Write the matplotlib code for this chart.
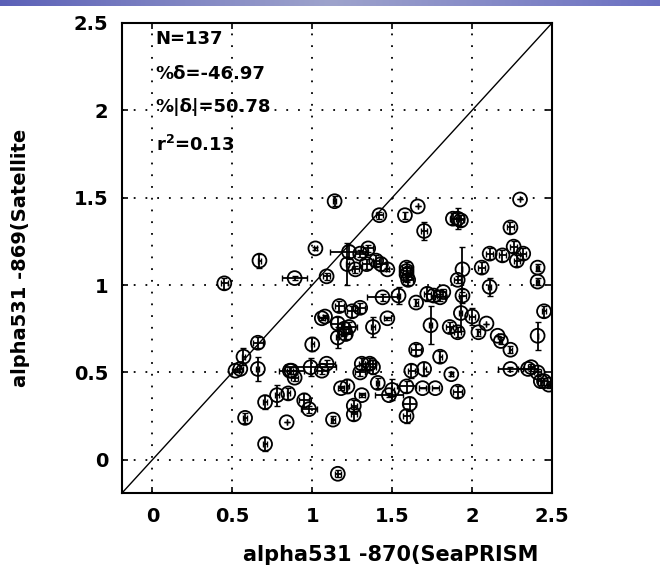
import numpy as np
import matplotlib
matplotlib.use("Agg")
import matplotlib.pyplot as plt

# ---------------- data ----------------
x_seaprism = [0.45, 0.67, 0.66, 0.57, 0.55, 0.52, 0.66, 0.58, 0.705, 0.78,
              0.85, 0.84, 0.705, 0.87,
              1.14, 1.42, 1.58, 1.66, 1.70, 1.88, 1.91, 1.93, 1.02, 2.11,
              2.06, 2.11, 1.94, 1.91, 0.89, 1.09, 1.23, 1.22, 1.27, 1.35,
              1.34, 1.40, 1.43, 1.47, 1.30, 1.59, 1.59, 1.60, 1.59,
              1.44, 1.54, 1.65, 1.72, 1.76, 1.80, 1.82, 1.94, 1.93, 1.74,
              1.86, 1.91, 2.00, 2.09, 2.16, 1.80, 1.87, 1.91, 1.77, 1.69,
              1.65, 1.70, 1.62, 1.59, 1.61, 1.59, 1.48, 1.50, 1.41, 1.38,
              1.47, 1.31, 1.36, 1.38, 1.30, 1.22, 1.18, 1.31, 1.26, 1.26,
              1.13, 1.16, 1.00, 0.99, 1.09, 1.06, 0.86, 0.89, 0.95, 0.98,
              1.17, 1.30, 1.06, 1.08, 1.16, 1.20, 1.23, 1.16, 1.25, 1.21,
              2.30, 2.24, 2.26, 2.32, 2.41, 2.41, 2.45, 2.41, 2.37, 2.41,
              2.45, 2.43, 2.24, 2.24, 2.18, 2.04, 2.48, 2.35, 2.19, 2.28]
y_satellite = [1.01, 1.14, 0.67, 0.59, 0.52, 0.51, 0.52, 0.24, 0.33, 0.37,
               0.38, 0.215, 0.09, 0.51,
               1.48, 1.40, 1.40, 1.45, 1.31, 1.38, 1.38, 1.37, 1.21, 1.18,
               1.10, 0.99, 1.09, 1.03, 1.04, 1.05, 1.19, 1.12, 1.09, 1.21,
               1.12, 1.14, 1.12, 1.09, 1.18, 1.10, 1.06, 1.03, 1.08,
               0.93, 0.94, 0.90, 0.95, 0.94, 0.93, 0.96, 0.94, 0.84, 0.77,
               0.76, 0.73, 0.82, 0.78, 0.71, 0.59, 0.49, 0.39, 0.41, 0.41,
               0.63, 0.52, 0.51, 0.42, 0.32, 0.25, 0.37, 0.40, 0.44, 0.76,
               0.81, 0.55, 0.55, 0.53, 0.50, 0.42, 0.41, 0.37, 0.31, 0.26,
               0.23, -0.08, 0.66, 0.53, 0.55, 0.51, 0.51, 0.47, 0.34, 0.29,
               0.88, 0.87, 0.81, 0.82, 0.78, 0.75, 0.76, 0.70, 0.85, 0.72,
               1.49, 1.33, 1.22, 1.18, 1.10, 1.02, 0.85, 0.71, 0.53, 0.50,
               0.45, 0.45, 0.52, 0.63, 0.68, 0.73, 0.43, 0.52, 1.17, 1.14]
x_error = [0.02, 0.01, 0.03, 0.01, 0.02, 0.02, 0.01, 0.01, 0.01, 0.01,
           0.01, 0.00, 0.01, 0.08,
           0.01, 0.02, 0.00, 0.00, 0.02, 0.02, 0.04, 0.02, 0.01, 0.02,
           0.02, 0.01, 0.00, 0.02, 0.08, 0.02, 0.12, 0.01, 0.02, 0.03,
           0.03, 0.02, 0.03, 0.01, 0.03, 0.03, 0.03, 0.03, 0.02,
           0.10, 0.01, 0.01, 0.02, 0.02, 0.03, 0.02, 0.02, 0.01, 0.01,
           0.02, 0.02, 0.02, 0.00, 0.00, 0.01, 0.01, 0.03, 0.02, 0.02,
           0.03, 0.01, 0.02, 0.06, 0.04, 0.02, 0.09, 0.01, 0.01, 0.01,
           0.02, 0.02, 0.03, 0.02, 0.03, 0.01, 0.02, 0.02, 0.02, 0.02,
           0.01, 0.02, 0.01, 0.16, 0.05, 0.03, 0.02, 0.02, 0.03, 0.05,
           0.03, 0.03, 0.02, 0.01, 0.04, 0.04, 0.05, 0.01, 0.03, 0.03,
           0.00, 0.02, 0.02, 0.02, 0.01, 0.01, 0.01, 0.00, 0.02, 0.02,
           0.02, 0.02, 0.08, 0.01, 0.01, 0.01, 0.01, 0.06, 0.02, 0.02]
y_error = [0.03, 0.04, 0.03, 0.05, 0.02, 0.01, 0.07, 0.03, 0.04, 0.06,
           0.03, 0.00, 0.04, 0.02,
           0.03, 0.02, 0.02, 0.00, 0.05, 0.03, 0.06, 0.03, 0.01, 0.03,
           0.03, 0.05, 0.13, 0.02, 0.01, 0.02, 0.04, 0.12, 0.02, 0.02,
           0.03, 0.03, 0.04, 0.01, 0.02, 0.03, 0.04, 0.03, 0.03,
           0.02, 0.05, 0.02, 0.04, 0.03, 0.02, 0.02, 0.04, 0.10, 0.11,
           0.03, 0.03, 0.05, 0.00, 0.00, 0.03, 0.01, 0.03, 0.00, 0.00,
           0.03, 0.04, 0.04, 0.03, 0.04, 0.04, 0.01, 0.06, 0.03, 0.06,
           0.01, 0.03, 0.03, 0.04, 0.02, 0.04, 0.01, 0.01, 0.03, 0.03,
           0.02, 0.02, 0.04, 0.05, 0.02, 0.02, 0.02, 0.02, 0.04, 0.02,
           0.03, 0.03, 0.01, 0.01, 0.04, 0.04, 0.03, 0.06, 0.03, 0.03,
           0.00, 0.03, 0.03, 0.03, 0.02, 0.02, 0.03, 0.08, 0.02, 0.02,
           0.02, 0.02, 0.01, 0.02, 0.02, 0.02, 0.02, 0.00, 0.03, 0.03]

ticks = [0, 0.5, 1, 1.5, 2, 2.5]
tick_labels = ["0", "0.5", "1", "1.5", "2", "2.5"]
stats_text = ["N=137", "%\u03b4=-46.97", "%|\u03b4|=50.78", "r$^{2}$=0.13"]
xlabel = "alpha531 -870(SeaPRISM"
ylabel = "alpha531 -869(Satellite"

# ---------------- figure ----------------
plt.rcParams['font.family'] = ['DejaVu Sans']
plt.rcParams['mathtext.default'] = 'bf'
fig = plt.figure(figsize=(6.6, 5.76), dpi=100)
fig.patch.set_facecolor('white')

# blue band at the top (slide background)
band = fig.add_axes([0, 1 - 6 / 576, 1, 6 / 576])
grad = np.linspace(0, 1, 256)
cols = np.array([[0.36, 0.38, 0.72], [0.62, 0.64, 0.80], [0.42, 0.44, 0.76]])
rgb = np.stack([np.interp(grad, [0, 0.5, 1], cols[:, c]) for c in range(3)], axis=-1)
band.imshow(rgb[np.newaxis, :, :], aspect='auto', extent=[0, 1, 0, 1])
band.axis('off')

ax = fig.add_axes([122 / 660, 83 / 576, 430 / 660, 470 / 576])
lim = (-0.19, 2.5)
ax.set_xlim(lim)
ax.set_ylim(lim)

ax.plot(lim, lim, color='black', lw=1.0, zorder=2)

ax.errorbar(x_seaprism, y_satellite, xerr=x_error, yerr=y_error, fmt='none',
            ecolor='black', elinewidth=1.3, capsize=2, capthick=1.0, zorder=3)
ax.scatter(x_seaprism, y_satellite, s=100, facecolors='none', edgecolors='black',
           linewidths=1.3, zorder=4)

ax.set_xticks(ticks)
ax.set_yticks(ticks)
ax.set_xticklabels(tick_labels, fontsize=14, fontweight='bold')
ax.set_yticklabels(tick_labels, fontsize=14, fontweight='bold')
ax.tick_params(direction='in', length=4, width=1.2, top=True, right=True,
               pad=10, colors='black')
ax.grid(True, color='black', linestyle=(0, (1, 5.5)), linewidth=1.3)
for sp in ax.spines.values():
    sp.set_linewidth(1.5)

ax.set_xlabel(xlabel, fontsize=15, fontweight='bold')
ax.set_ylabel(ylabel, fontsize=14, fontweight='bold')
ax.xaxis.set_label_coords(0.626, -0.11)
ax.yaxis.set_label_coords(-0.215, 0.5)

ys = [2.41, 2.21, 2.02, 1.80]
for s, yv in zip(stats_text, ys):
    ax.text(0.02, yv, s, fontsize=13, fontweight='bold', va='center', ha='left',
            zorder=5)

fig.savefig("out.png", dpi=100)
